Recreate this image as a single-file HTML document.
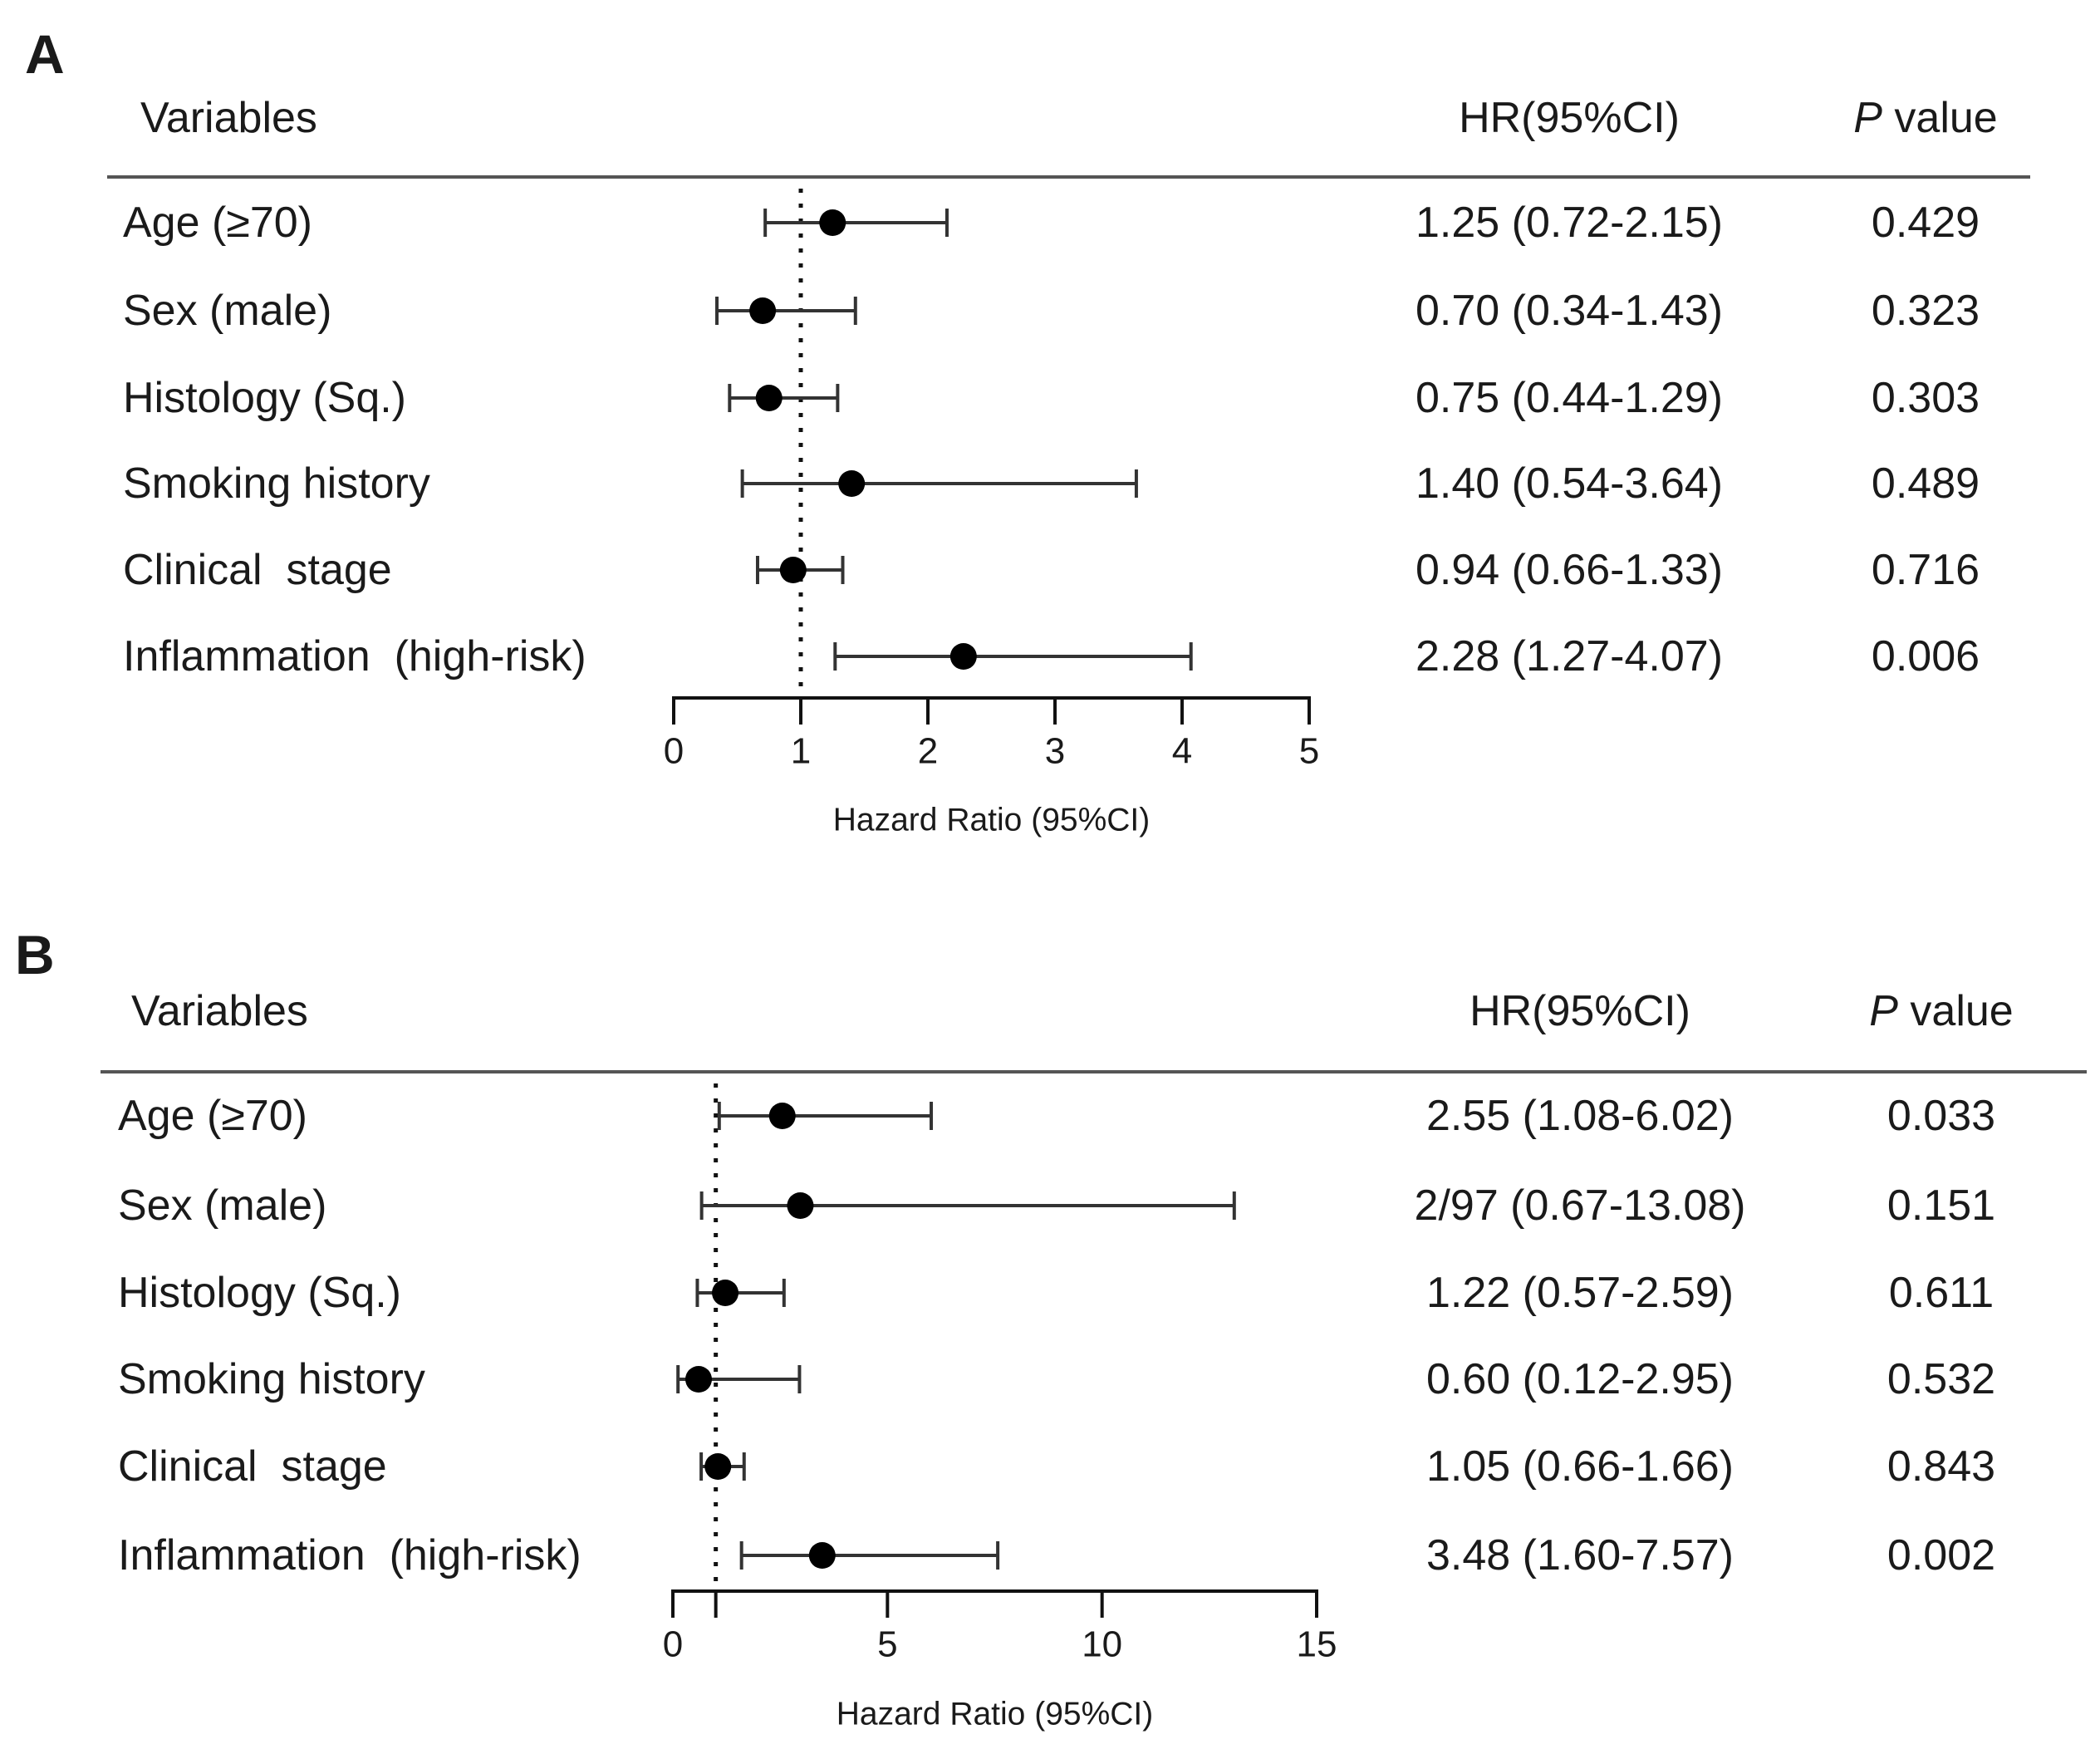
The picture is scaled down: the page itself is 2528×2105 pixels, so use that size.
<!DOCTYPE html>
<html><head><meta charset="utf-8"><style>
html,body{margin:0;padding:0;background:#fff;}
svg{display:block;}
text{font-family:"Liberation Sans",Arial,sans-serif;fill:#1a1a1a;white-space:pre;}
</style></head>
<body>
<svg id="fig" width="2528" height="2105" viewBox="0 0 2528 2105" xmlns="http://www.w3.org/2000/svg" xml:space="preserve"></svg>
<script>
const labels = ["Age (\u226570)","Sex (male)","Histology (Sq.)","Smoking history","Clinical  stage","Inflammation  (high-risk)"];
const hrA = [1.25,0.70,0.75,1.40,0.94,2.28];
const loA = [0.72,0.34,0.44,0.54,0.66,1.27];
const hiA = [2.15,1.43,1.29,3.64,1.33,4.07];
const hrTextA = ["1.25 (0.72-2.15)","0.70 (0.34-1.43)","0.75 (0.44-1.29)","1.40 (0.54-3.64)","0.94 (0.66-1.33)","2.28 (1.27-4.07)"];
const pA = ["0.429","0.323","0.303","0.489","0.716","0.006"];
const ticksA = [0,1,2,3,4,5];
const hrB = [2.55,2.97,1.22,0.60,1.05,3.48];
const loB = [1.08,0.67,0.57,0.12,0.66,1.60];
const hiB = [6.02,13.08,2.59,2.95,1.66,7.57];
const hrTextB = ["2.55 (1.08-6.02)","2/97 (0.67-13.08)","1.22 (0.57-2.59)","0.60 (0.12-2.95)","1.05 (0.66-1.66)","3.48 (1.60-7.57)"];
const pB = ["0.033","0.151","0.611","0.532","0.843","0.002"];
const ticksB = [0,5,10,15];

const NS="http://www.w3.org/2000/svg";
const svg=document.getElementById('fig');
function mk(tag,attrs,parent,txt){const e=document.createElementNS(NS,tag);for(const k in attrs)e.setAttribute(k,attrs[k]);if(txt!==undefined)e.textContent=txt;(parent||svg).appendChild(e);return e;}

function panel(cfg){
  const g=mk('g',{});
  
  
  const sx=v=>cfg.x0+(v-cfg.tmin)/(cfg.tmax-cfg.tmin)*(cfg.x1-cfg.x0);
  let t=mk('text',{x:cfg.letterX,y:cfg.letterY,'font-size':66,'font-weight':'bold'},g,cfg.letter);
  
  
  t=mk('text',{x:cfg.varX,y:cfg.headY,'font-size':52,'dominant-baseline':'central'},g,'Variables');
  
  
  t=mk('text',{x:cfg.hrX,y:cfg.headY,'font-size':52,'text-anchor':'middle','dominant-baseline':'central'},g,'HR(95%CI)');
  
  
  t=mk('text',{x:cfg.pX,y:cfg.headY,'font-size':52,'text-anchor':'middle','dominant-baseline':'central'},g);
  
  
  mk('tspan',{'font-style':'italic'},t,'P');
  mk('tspan',{},t,' value');
  let l=mk('line',{x1:cfg.lineX0,x2:cfg.lineX1,y1:cfg.lineY,y2:cfg.lineY,stroke:'#555','stroke-width':4},g);
  
  
  l=mk('line',{x1:sx(1),x2:sx(1),y1:cfg.lineY+14,y2:cfg.axisY,stroke:'#111','stroke-width':5,'stroke-dasharray':'5 13'},g);
  
  
  for(let i=0;i<labels.length;i++){
    const y=cfg.rowY[i];
    t=mk('text',{x:cfg.labX,y:y,'font-size':52,'dominant-baseline':'central'},g,labels[i]);
    
    
    t=mk('text',{x:cfg.hrX,y:y,'font-size':52,'text-anchor':'middle','dominant-baseline':'central'},g,cfg.hrText[i]);
    
    
    t=mk('text',{x:cfg.pX,y:y,'font-size':52,'text-anchor':'middle','dominant-baseline':'central'},g,cfg.p[i]);
    
    
    const a=sx(cfg.lo[i]),b=sx(cfg.hi[i]);
    l=mk('line',{x1:a,x2:b,y1:y,y2:y,stroke:'#333','stroke-width':4},g);
    
    
    l=mk('line',{x1:a,x2:a,y1:y-17,y2:y+17,stroke:'#333','stroke-width':4},g);
    
    
    l=mk('line',{x1:b,x2:b,y1:y-17,y2:y+17,stroke:'#333','stroke-width':4},g);
    
    
    const c=mk('circle',{cx:sx(cfg.hr[i]),cy:y,r:16,fill:'#000'},g);
    
    
  }
  l=mk('line',{x1:cfg.x0-2,x2:cfg.x1+2,y1:cfg.axisY,y2:cfg.axisY,stroke:'#111','stroke-width':4},g);
  
  
  for(const v of cfg.ticks){
    l=mk('line',{x1:sx(v),x2:sx(v),y1:cfg.axisY,y2:cfg.axisY+32,stroke:'#111','stroke-width':4},g);
    
    
    t=mk('text',{x:sx(v),y:cfg.axisY+64,'font-size':44,'text-anchor':'middle','dominant-baseline':'central'},g,String(v));
    
    
  }
  if(cfg.extraTick!==undefined){
    l=mk('line',{x1:sx(cfg.extraTick),x2:sx(cfg.extraTick),y1:cfg.axisY,y2:cfg.axisY+32,stroke:'#111','stroke-width':4},g);
    
    
  }
  t=mk('text',{x:(cfg.x0+cfg.x1)/2,y:cfg.titleY,'font-size':39,'text-anchor':'middle','dominant-baseline':'central'},g,'Hazard Ratio (95%CI)');
  
  
}

panel({name:'panel-a',letter:'A',letterX:30,letterY:88,varX:169,headY:142,hrX:1889,pX:2318,
  lineX0:129,lineX1:2444,lineY:213,labX:148,rowY:[268,374,479,582,686,790],
  x0:811,x1:1576,tmin:0,tmax:5,axisY:840,titleY:987,ticks:ticksA,
  hr:hrA,lo:loA,hi:hiA,hrText:hrTextA,p:pA});
panel({name:'panel-b',letter:'B',letterX:18,letterY:1172,varX:158,headY:1217,hrX:1902,pX:2337,
  lineX0:121,lineX1:2512,lineY:1290,labX:142,rowY:[1343,1451,1556,1660,1765,1872],
  x0:810,x1:1585,tmin:0,tmax:15,axisY:1915,titleY:2063,ticks:ticksB,extraTick:1,
  hr:hrB,lo:loB,hi:hiB,hrText:hrTextB,p:pB});
</script>
</body></html>
